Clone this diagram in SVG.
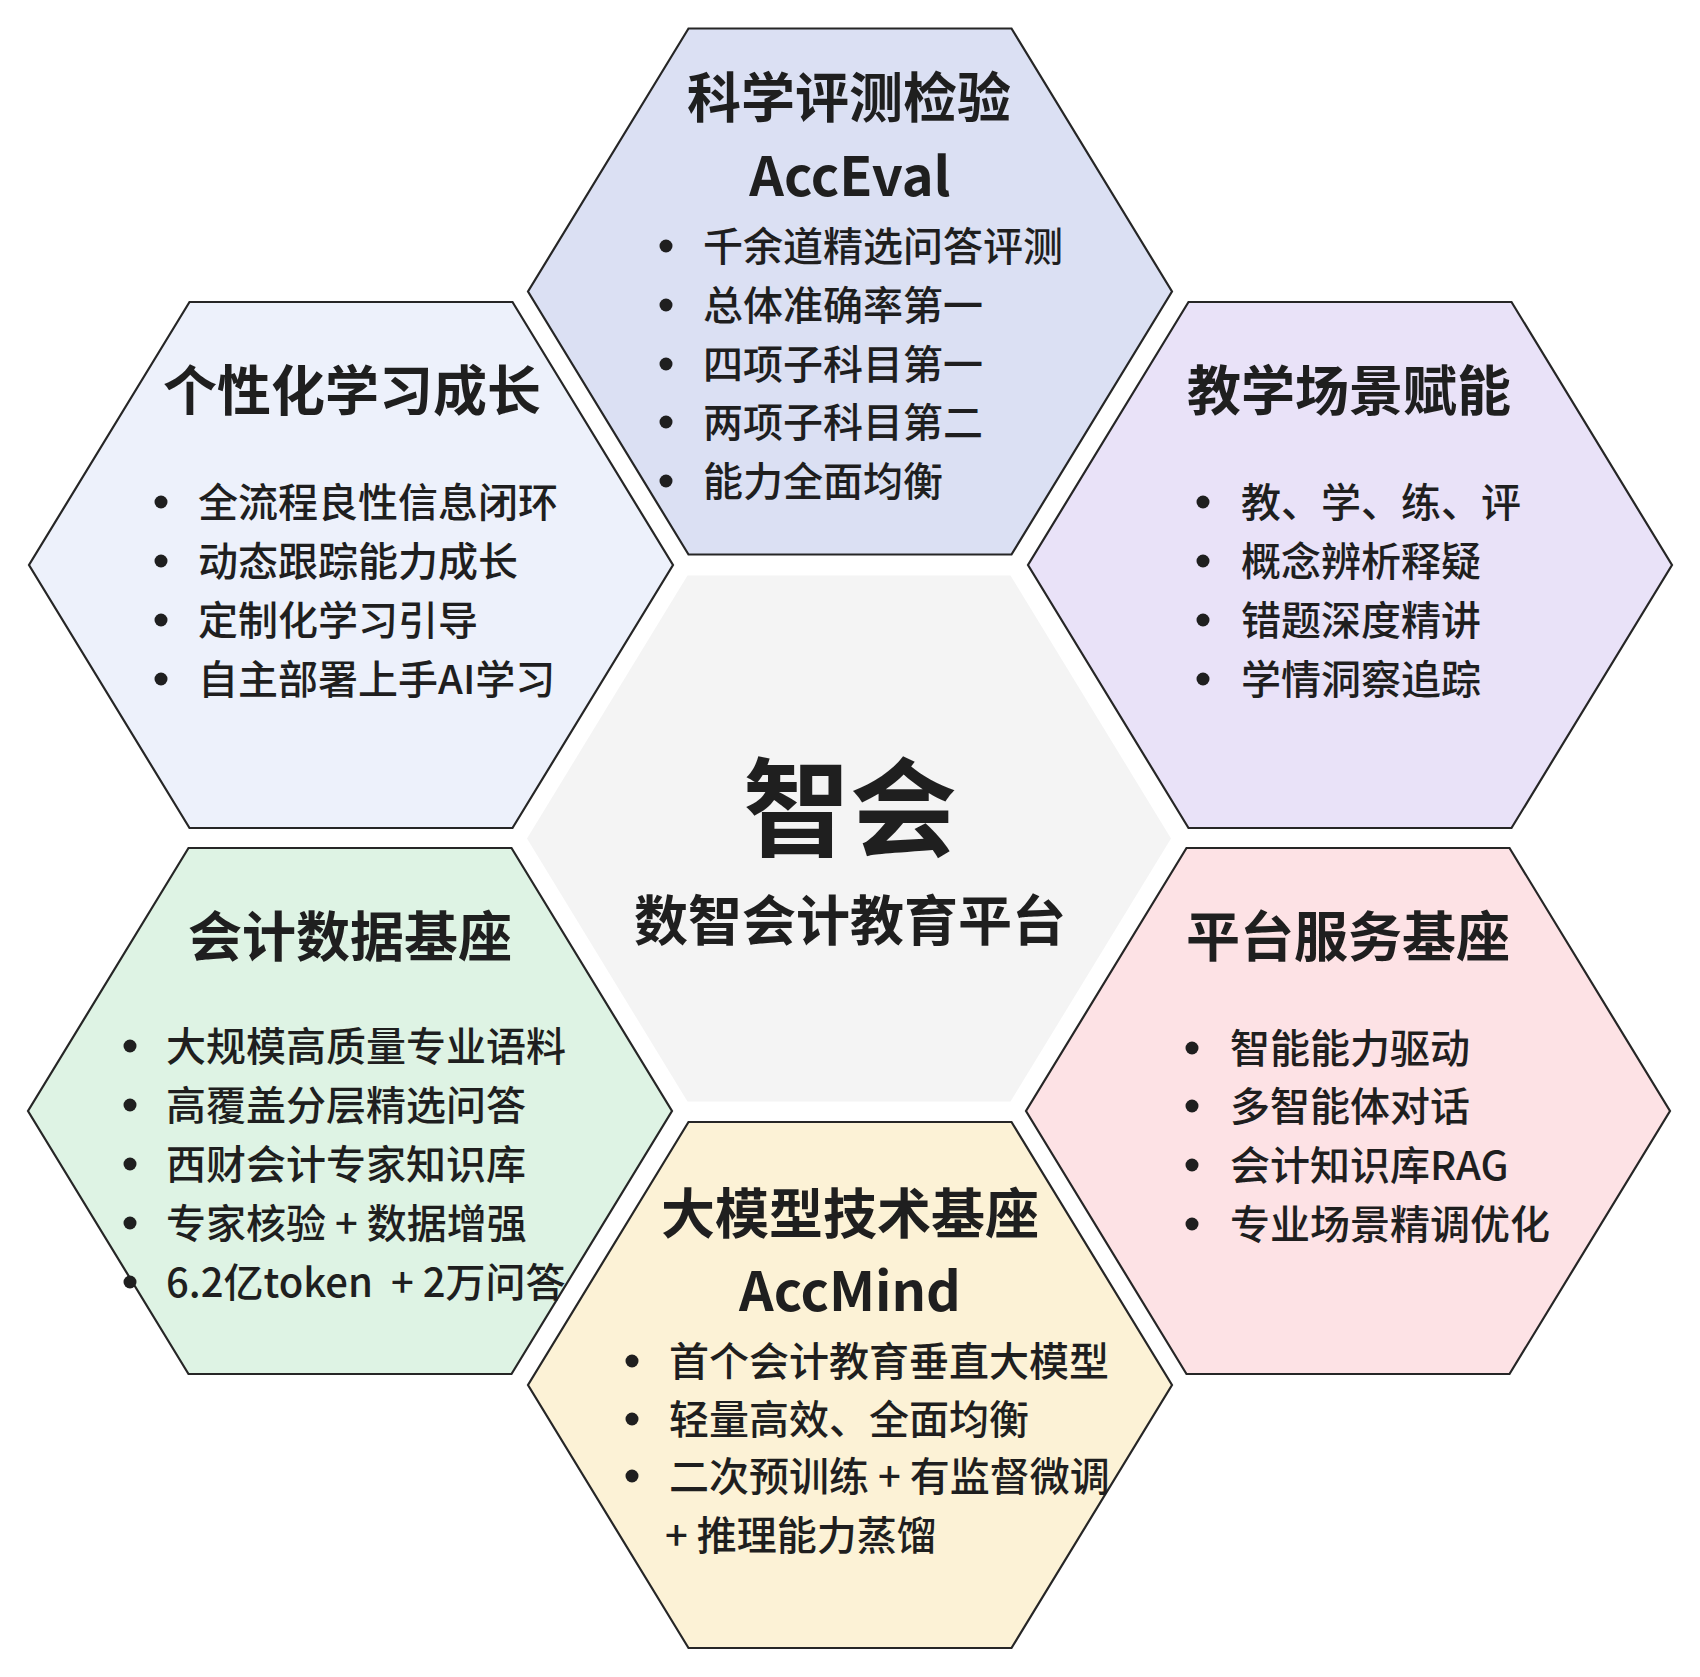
<svg xmlns="http://www.w3.org/2000/svg" width="1700" height="1677" viewBox="0 0 1700 1677">
<style>
.hex{stroke:#262626;stroke-width:2.2;stroke-linejoin:miter}
.t{font-family:"Noto Sans CJK SC","Noto Sans",sans-serif;fill:#1f1f1f}
.title{font-size:54px;font-weight:700;text-anchor:middle}
.item{font-size:40px;font-weight:500}
.dot{fill:#1f1f1f}
</style>
<defs>
<path id="hexshape" d="M-161.5,-263 L161.5,-263 L322,0 L161.5,263 L-161.5,263 L-322,0 Z"/>
</defs>
<rect width="1700" height="1677" fill="#ffffff"/>
<g id="connectors"></g>

<g id="node-center" transform="translate(849,838.5)">
<use href="#hexshape" fill="#f4f4f4"/>
<text class="t" x="1" y="9" font-size="107" font-weight="700" text-anchor="middle">智会</text>
<text class="t" x="1" y="102" font-size="54" font-weight="700" text-anchor="middle">数智会计教育平台</text>
</g>

<g id="node-acceval">
<use href="#hexshape" transform="translate(850,291.5)" class="hex" fill="#dbe0f3"/>
<text class="t title" x="849" y="118">科学评测检验</text>
<text class="t title" x="850" y="196">AccEval</text>
<g class="dot"><circle cx="666" cy="246" r="6.5"/><circle cx="666" cy="305" r="6.5"/><circle cx="666" cy="364" r="6.5"/><circle cx="666" cy="422" r="6.5"/><circle cx="666" cy="481" r="6.5"/></g>
<text class="t item" x="703" y="261">千余道精选问答评测</text>
<text class="t item" x="703" y="320">总体准确率第一</text>
<text class="t item" x="703" y="379">四项子科目第一</text>
<text class="t item" x="703" y="437">两项子科目第二</text>
<text class="t item" x="703" y="496">能力全面均衡</text>
</g>

<g id="node-personal">
<use href="#hexshape" transform="translate(351,565)" class="hex" fill="#edf1fb"/>
<text class="t title" x="352" y="411">个性化学习成长</text>
<g class="dot"><circle cx="161" cy="502" r="6.5"/><circle cx="161" cy="561" r="6.5"/><circle cx="161" cy="620" r="6.5"/><circle cx="161" cy="679" r="6.5"/></g>
<text class="t item" x="198" y="517">全流程良性信息闭环</text>
<text class="t item" x="198" y="576">动态跟踪能力成长</text>
<text class="t item" x="198" y="635">定制化学习引导</text>
<text class="t item" x="198" y="694">自主部署上手AI学习</text>
</g>

<g id="node-teaching">
<use href="#hexshape" transform="translate(1350,565)" class="hex" fill="#e9e2f8"/>
<text class="t title" x="1349" y="411">教学场景赋能</text>
<g class="dot"><circle cx="1203" cy="502" r="6.5"/><circle cx="1203" cy="561" r="6.5"/><circle cx="1203" cy="620" r="6.5"/><circle cx="1203" cy="679" r="6.5"/></g>
<text class="t item" x="1241" y="517">教、学、练、评</text>
<text class="t item" x="1241" y="576">概念辨析释疑</text>
<text class="t item" x="1241" y="635">错题深度精讲</text>
<text class="t item" x="1241" y="694">学情洞察追踪</text>
</g>

<g id="node-data">
<use href="#hexshape" transform="translate(350,1111)" class="hex" fill="#def3e4"/>
<text class="t title" x="350" y="957">会计数据基座</text>
<g class="dot"><circle cx="130" cy="1046" r="6.5"/><circle cx="130" cy="1105" r="6.5"/><circle cx="130" cy="1164" r="6.5"/><circle cx="130" cy="1223" r="6.5"/><circle cx="130" cy="1282" r="6.5"/></g>
<text class="t item" x="166" y="1061">大规模高质量专业语料</text>
<text class="t item" x="166" y="1120">高覆盖分层精选问答</text>
<text class="t item" x="166" y="1179">西财会计专家知识库</text>
<text class="t item" x="166" y="1238">专家核验 + 数据增强</text>
<text class="t item" x="166" y="1297" xml:space="preserve">6.2亿token  + 2万问答</text>
</g>

<g id="node-platform">
<use href="#hexshape" transform="translate(1348,1111)" class="hex" fill="#fde2e5"/>
<text class="t title" x="1348" y="957">平台服务基座</text>
<g class="dot"><circle cx="1192" cy="1048" r="6.5"/><circle cx="1192" cy="1106" r="6.5"/><circle cx="1192" cy="1165" r="6.5"/><circle cx="1192" cy="1224" r="6.5"/></g>
<text class="t item" x="1230" y="1063">智能能力驱动</text>
<text class="t item" x="1230" y="1121">多智能体对话</text>
<text class="t item" x="1230" y="1180">会计知识库RAG</text>
<text class="t item" x="1230" y="1239">专业场景精调优化</text>
</g>

<g id="node-accmind">
<use href="#hexshape" transform="translate(850,1385)" class="hex" fill="#fcf2d6"/>
<text class="t title" x="850" y="1234">大模型技术基座</text>
<text class="t title" x="850" y="1311">AccMind</text>
<g class="dot"><circle cx="632" cy="1361" r="6.5"/><circle cx="632" cy="1419" r="6.5"/><circle cx="632" cy="1476" r="6.5"/></g>
<text class="t item" x="669" y="1376">首个会计教育垂直大模型</text>
<text class="t item" x="669" y="1434">轻量高效、全面均衡</text>
<text class="t item" x="669" y="1491">二次预训练 + 有监督微调</text>
<text class="t item" x="665" y="1550">+ 推理能力蒸馏</text>
</g>
</svg>
